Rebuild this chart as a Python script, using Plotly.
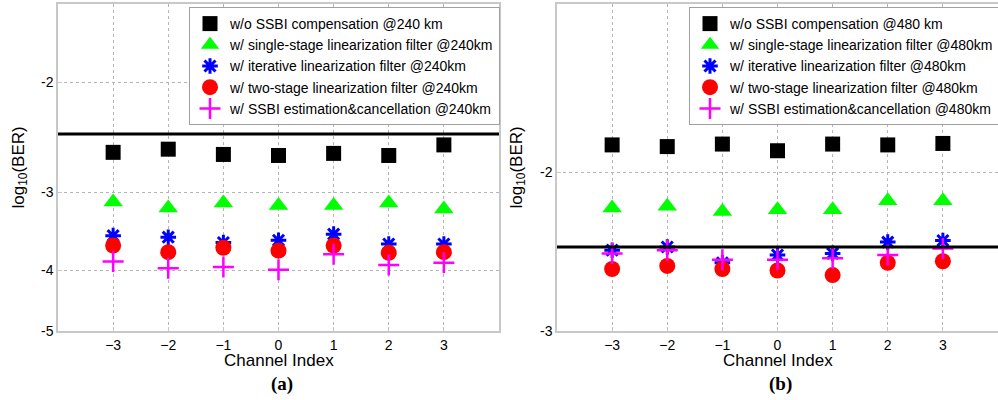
import math
import plotly.graph_objects as go

channels = [-3, -2, -1, 0, 1, 2, 3]

# Panel (a) 240 km, values are log10(BER)
a_wo = [-2.59, -2.56, -2.61, -2.62, -2.60, -2.62, -2.52]
a_single = [-3.11, -3.18, -3.12, -3.15, -3.15, -3.12, -3.19]
a_iter = [-3.52, -3.54, -3.61, -3.58, -3.50, -3.63, -3.63]
a_two = [-3.65, -3.74, -3.68, -3.72, -3.65, -3.75, -3.74]
a_est = [-3.87, -3.97, -3.95, -3.99, -3.77, -3.92, -3.89]

# Panel (b) 480 km
b_wo = [-1.864, -1.872, -1.86, -1.892, -1.86, -1.864, -1.857]
b_single = [-2.19, -2.18, -2.21, -2.20, -2.20, -2.15, -2.15]
b_iter = [-2.44, -2.42, -2.52, -2.47, -2.46, -2.39, -2.38]
b_two = [-2.56, -2.54, -2.56, -2.57, -2.60, -2.52, -2.51]
b_est = [-2.46, -2.44, -2.50, -2.50, -2.49, -2.47, -2.43]

hd_fec = -2.42

a_names = ["w/o SSBI compensation @240 km",
           "w/ single-stage linearization filter @240km",
           "w/ iterative linearization filter @240km",
           "w/ two-stage linearization filter @240km",
           "w/ SSBI estimation&cancellation @240km"]
b_names = ["w/o SSBI compensation @480 km",
           "w/ single-stage linearization filter @480km",
           "w/ iterative linearization filter @480km",
           "w/ two-stage linearization filter @480km",
           "w/ SSBI estimation&cancellation @480km"]

a_ticks = [-2, -3, -4, -5]
b_ticks = [-2, -3]

styles = [
    dict(symbol="square", color="black", size=15, line=dict(width=0)),
    dict(symbol="triangle-up", color="#00ff00", size=17, line=dict(width=0)),
    dict(symbol="asterisk-open", color="blue", size=13, line=dict(width=3, color="blue")),
    dict(symbol="circle", color="red", size=16, line=dict(width=0)),
    dict(symbol="cross-thin-open", color="magenta", size=15, line=dict(width=2.5, color="magenta")),
]

fig = go.Figure()
a_series = [a_wo, a_single, a_iter, a_two, a_est]
b_series = [b_wo, b_single, b_iter, b_two, b_est]
for i in range(5):
    fig.add_trace(go.Scatter(x=channels, y=[-v for v in a_series[i]], mode="markers",
                             marker=styles[i], name=a_names[i], xaxis="x", yaxis="y",
                             legend="legend"))
for i in range(5):
    fig.add_trace(go.Scatter(x=channels, y=[-v for v in b_series[i]], mode="markers",
                             marker=styles[i], name=b_names[i], xaxis="x2", yaxis="y2",
                             legend="legend2"))

W, H = 998, 400
xa = [58 / W, 499 / W]
xb = [557 / W, 998 / W]
yd = [(H - 331) / H, (H - 4) / H]

axis_common = dict(showline=True, mirror=True, linecolor="#c8c8c8", linewidth=1.5,
                   showgrid=True, gridcolor="#b4b4b4", griddash="dot", gridwidth=1,
                   zeroline=False, ticks="inside", ticklen=4, tickcolor="#c8c8c8",
                   automargin=False,
                   tickfont=dict(family="Arial", size=14, color="black"))
fig.update_layout(
    width=W, height=H, margin=dict(l=0, r=0, t=0, b=0, autoexpand=False),
    paper_bgcolor="white", plot_bgcolor="white",
    font=dict(family="Arial", color="black"),
    xaxis=dict(domain=xa, range=[-4, 4], tickvals=channels, anchor="y", **axis_common),
    yaxis=dict(domain=yd, type="log", range=[math.log10(5), math.log10(1.5)],
               tickvals=[-v for v in a_ticks], ticktext=[str(v) for v in a_ticks],
               anchor="x", **axis_common),
    xaxis2=dict(domain=xb, range=[-4, 4], tickvals=channels, anchor="y2", **axis_common),
    yaxis2=dict(domain=yd, type="log", range=[math.log10(3), math.log10(1.3)],
                tickvals=[-v for v in b_ticks], ticktext=[str(v) for v in b_ticks],
                anchor="x2", **axis_common),
    legend=dict(x=189 / W, y=1 - 7 / H, xanchor="left", yanchor="top",
                bgcolor="white", bordercolor="#a0a0a0", borderwidth=1,
                font=dict(family="Arial", size=14), tracegroupgap=0, itemwidth=30),
    legend2=dict(x=689 / W, y=1 - 7 / H, xanchor="left", yanchor="top",
                 bgcolor="white", bordercolor="#a0a0a0", borderwidth=1,
                 font=dict(family="Arial", size=14), tracegroupgap=0, itemwidth=30),
    showlegend=True,
)

for xr, yr in [("x", "y"), ("x2", "y2")]:
    fig.add_shape(type="line", xref=f"{xr} domain", yref=yr, x0=0, x1=1,
                  y0=-hd_fec, y1=-hd_fec, line=dict(color="black", width=3))

fig.add_annotation(xref="x domain", yref="y", x=0.01, y=-hd_fec, yshift=16, text="<b>HD-FEC</b>",
                   showarrow=False, xanchor="left", yanchor="middle", font=dict(family="Arial", size=15))
fig.add_annotation(xref="x2 domain", yref="y2", x=0.01, y=-hd_fec, yshift=9, text="<b>HD-FEC</b>",
                   showarrow=False, xanchor="left", yanchor="middle", font=dict(family="Arial", size=15))

for cx, lab, ytx in [((xa[0] + xa[1]) / 2, "(a)", 20), ((xb[0] + xb[1]) / 2, "(b)", 518)]:
    fig.add_annotation(xref="paper", yref="paper", x=cx, y=1 - 360 / H, text="Channel Index",
                       showarrow=False, xanchor="center", yanchor="middle",
                       font=dict(family="Arial", size=17))
    fig.add_annotation(xref="paper", yref="paper", x=cx + 3 / W, y=1 - 384 / H, text=f"<b>{lab}</b>",
                       showarrow=False, xanchor="center", yanchor="middle",
                       font=dict(family="Liberation Serif", size=19))
    fig.add_annotation(xref="paper", yref="paper", x=ytx / W, y=(yd[0] + yd[1]) / 2,
                       text="log<sub>10</sub>(BER)", textangle=-90, showarrow=False,
                       xanchor="center", yanchor="middle",
                       font=dict(family="Arial", size=17))

fig.write_html("out.html", config={"displayModeBar": False},
               post_script="document.body.style.margin='0';")
